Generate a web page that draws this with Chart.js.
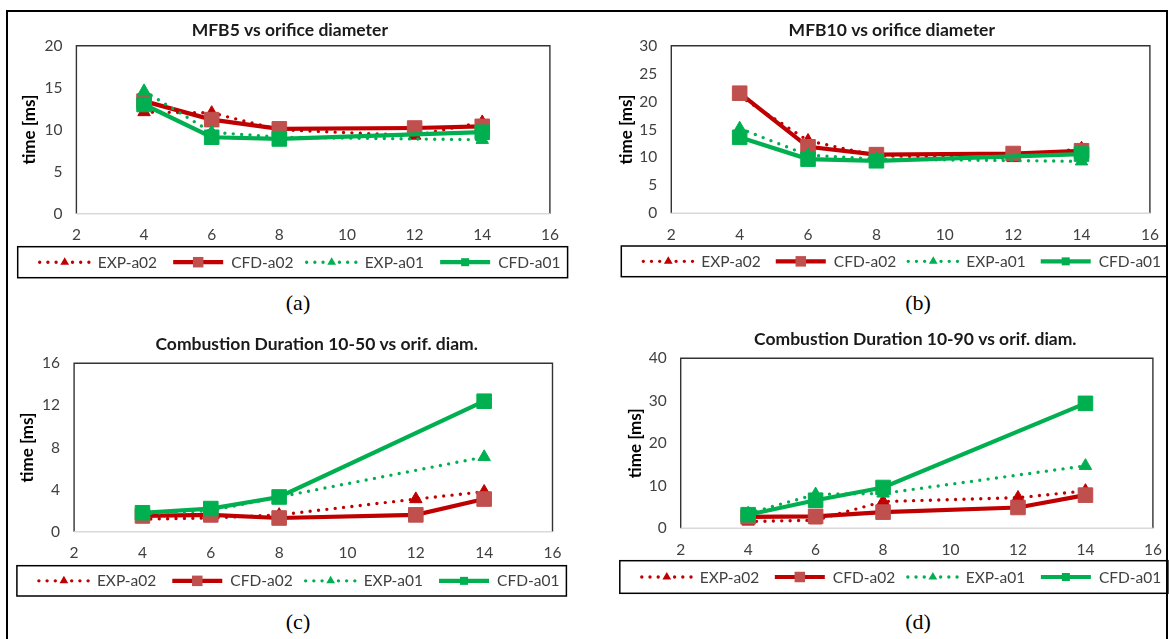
<!DOCTYPE html>
<html>
<head>
<meta charset="utf-8">
<script src="https://cdn.jsdelivr.net/npm/chart.js@4.4.1/dist/chart.umd.min.js"></script>
<style>
  html, body { margin: 0; padding: 0; background: #fff; overflow: hidden; }
  body { width: 1169px; height: 639px; position: relative; }
  .frame { position: absolute; left: 6px; top: 10px; width: 1162px; height: 700px;
           border: 2px solid #000; box-sizing: border-box; }
  .panel { position: absolute; }
  .cap { position: absolute; font-family: "Liberation Serif", "Times New Roman", serif;
         font-size: 22px; color: #000; transform: translate(-50%, -50%); white-space: nowrap; }
</style>
</head>
<body>
<div class="frame"></div>

<script>
// ---- data -------------------------------------------------------------
const seriesNames = ['EXP-a02', 'CFD-a02', 'EXP-a01', 'CFD-a01'];
const diamA02 = [4, 6, 8, 12, 14];      // orifice diameters, alpha 0.2 runs
const diamA01 = [4, 6, 8, 14];          // orifice diameters, alpha 0.1 runs
const xMin = 2, xMax = 16, xStep = 2;

// MFB5 vs orifice diameter [ms]
const mfb5Exp02 = [12.1, 12.0, 10.0, 9.3, 10.9];
const mfb5Cfd02 = [13.4, 11.2, 10.1, 10.2, 10.4];
const mfb5Exp01 = [14.6, 9.7, 9.1, 8.8];
const mfb5Cfd01 = [13.0, 9.1, 8.9, 9.7];

// MFB10 vs orifice diameter [ms]
const mfb10Exp02 = [21.0, 13.0, 10.3, 9.9, 11.6];
const mfb10Cfd02 = [21.5, 11.9, 10.5, 10.7, 11.2];
const mfb10Exp01 = [15.2, 10.4, 9.7, 9.3];
const mfb10Cfd01 = [13.6, 9.7, 9.4, 10.6];

// Combustion duration 10-50 [ms]
const cd1050Exp02 = [1.2, 1.3, 1.6, 3.1, 3.8];
const cd1050Cfd02 = [1.5, 1.6, 1.3, 1.6, 3.1];
const cd1050Exp01 = [1.7, 2.0, 3.3, 7.1];
const cd1050Cfd01 = [1.8, 2.2, 3.3, 12.4];

// Combustion duration 10-90 [ms]
const cd1090Exp02 = [1.6, 1.9, 6.3, 7.2, 8.8];
const cd1090Cfd02 = [2.7, 2.8, 3.8, 4.9, 7.8];
const cd1090Exp01 = [3.5, 8.0, 8.2, 14.7];
const cd1090Cfd01 = [3.2, 6.6, 9.6, 29.4];

const panelTitles = ['MFB5 vs orifice diameter', 'MFB10 vs orifice diameter',
  'Combustion Duration 10-50 vs orif. diam.', 'Combustion Duration 10-90 vs orif. diam.'];
const panelCaptions = ['(a)', '(b)', '(c)', '(d)'];
const yMaxes = [20, 30, 16, 40];
const ySteps = [5, 5, 4, 10];
const yAxisTitle = 'time [ms]';

// ---- styles -----------------------------------------------------------
const RED = '#C00000', RED_MARK = '#C0504D', GREEN = '#00B050';
const SANS = 'Lato, "Open Sans", sans-serif';

const seriesStyles = [
  { kind: 'dots', borderColor: RED, backgroundColor: RED, borderWidth: 3.4, borderDash: [0, 8.4],
    borderCapStyle: 'round', pointStyle: 'triangle', pointRadius: 7.2,
    pointBackgroundColor: RED, pointBorderColor: RED, pointBorderWidth: 1, order: 4 },
  { kind: 'solid', borderColor: RED, backgroundColor: RED_MARK, borderWidth: 4.2,
    pointStyle: 'rect', pointRadius: 10.3, pointBackgroundColor: RED_MARK,
    pointBorderColor: RED_MARK, pointBorderWidth: 1, order: 3 },
  { kind: 'dots', borderColor: GREEN, backgroundColor: GREEN, borderWidth: 3.4, borderDash: [0, 8.4],
    borderCapStyle: 'round', pointStyle: 'triangle', pointRadius: 7.2,
    pointBackgroundColor: GREEN, pointBorderColor: GREEN, pointBorderWidth: 1, order: 2 },
  { kind: 'solid', borderColor: GREEN, backgroundColor: GREEN, borderWidth: 4.2,
    pointStyle: 'rect', pointRadius: 10.3, pointBackgroundColor: GREEN,
    pointBorderColor: GREEN, pointBorderWidth: 1, order: 1 }
];

// ---- panel layout (page pixels) ----------------------------------------
const layouts = [
  { plot: { l: 76.4, r: 549.9, t: 45.7, b: 213.7 }, title: { x: 289.8, y: 30 }, yTitleX: 30,
    legend: { l: 17.7, r: 567.6, t: 246.7, b: 277.7 }, caption: { x: 298, y: 303 } },
  { plot: { l: 671.3, r: 1149.9, t: 45.7, b: 213.3 }, title: { x: 891.8, y: 30 }, yTitleX: 627,
    legend: { l: 621.3, r: 1167.2, t: 246, b: 276.7 }, caption: { x: 918, y: 303 } },
  { plot: { l: 74.1, r: 552.5, t: 363.3, b: 531.7 }, title: { x: 316.7, y: 344.3 }, yTitleX: 28,
    legend: { l: 16.9, r: 566.4, t: 565.7, b: 596 }, caption: { x: 298, y: 621.7 } },
  { plot: { l: 680.7, r: 1152.9, t: 358.3, b: 528.3 }, title: { x: 915.3, y: 339 }, yTitleX: 635.6,
    legend: { l: 619.8, r: 1167.9, t: 560.7, b: 593.3 }, caption: { x: 918, y: 621.7 } }
];

// ---- plugins ----------------------------------------------------------
const plotFrame = {
  id: 'plotFrame',
  beforeDatasetsDraw(chart) {
    const { ctx, chartArea: a } = chart;
    ctx.save();
    ctx.strokeStyle = '#333';
    ctx.lineWidth = 1.4;
    ctx.beginPath();
    ctx.moveTo(a.left, a.bottom);
    ctx.lineTo(a.left, a.top);
    ctx.lineTo(a.right, a.top);
    ctx.lineTo(a.right, a.bottom);
    ctx.stroke();
    ctx.strokeStyle = '#d9d9d9';
    ctx.lineWidth = 1.6;
    ctx.beginPath();
    ctx.moveTo(a.left, a.bottom);
    ctx.lineTo(a.right, a.bottom);
    ctx.stroke();
    ctx.restore();
  }
};

const panelTitle = {
  id: 'panelTitle',
  afterDraw(chart, args, opts) {
    const { ctx } = chart;
    ctx.save();
    ctx.font = 'bold 17.5px ' + SANS;
    ctx.fillStyle = '#1a1a1a';
    ctx.textAlign = 'center';
    ctx.textBaseline = 'middle';
    ctx.fillText(opts.text, opts.x, opts.y);
    ctx.restore();
  }
};

function drawMarker(ctx, style, x, y, scale) {
  ctx.save();
  ctx.fillStyle = style.pointBackgroundColor;
  ctx.setLineDash([]);
  if (style.pointStyle === 'triangle') {
    const r = style.pointRadius * scale;
    ctx.beginPath();
    ctx.moveTo(x, y - r);
    ctx.lineTo(x + r * 0.866, y + r * 0.5);
    ctx.lineTo(x - r * 0.866, y + r * 0.5);
    ctx.closePath();
    ctx.fill();
  } else {
    const s = style.pointRadius * Math.SQRT1_2 * scale;
    ctx.fillRect(x - s, y - s, 2 * s, 2 * s);
  }
  ctx.restore();
}

const boxLegend = {
  id: 'boxLegend',
  afterDraw(chart, args, opts) {
    const { ctx } = chart;
    const L = opts.box;
    ctx.save();
    ctx.strokeStyle = '#000';
    ctx.lineWidth = 1.5;
    ctx.strokeRect(L.l, L.t, L.r - L.l, L.b - L.t);
    const cy = (L.t + L.b) / 2;
    const pitch = (L.r - L.l - 16) / 4;
    chart.data.datasets.forEach((d, i) => {
      const st = seriesStyles[i];
      const sx = L.l + 22 + i * pitch;
      const len = 50;
      ctx.save();
      ctx.strokeStyle = st.borderColor;
      ctx.lineWidth = st.borderWidth;
      ctx.lineCap = st.kind === 'dots' ? 'round' : 'butt';
      ctx.setLineDash(st.kind === 'dots' ? [0, 8.2] : []);
      ctx.beginPath();
      ctx.moveTo(sx, cy);
      ctx.lineTo(sx + len, cy);
      ctx.stroke();
      ctx.restore();
      drawMarker(ctx, st, sx + len / 2, cy, st.kind === 'dots' ? 0.7 : (i === 1 ? 0.72 : 0.55));
      ctx.font = '15.5px ' + SANS;
      ctx.fillStyle = '#404040';
      ctx.textAlign = 'left';
      ctx.textBaseline = 'middle';
      ctx.fillText(d.label, sx + len + 8, cy + 0.5);
    });
    ctx.restore();
  }
};

// ---- build the four panels ---------------------------------------------
const panelData = [
  [mfb5Exp02, mfb5Cfd02, mfb5Exp01, mfb5Cfd01],
  [mfb10Exp02, mfb10Cfd02, mfb10Exp01, mfb10Cfd01],
  [cd1050Exp02, cd1050Cfd02, cd1050Exp01, cd1050Cfd01],
  [cd1090Exp02, cd1090Cfd02, cd1090Exp01, cd1090Cfd01]
];
const seriesX = [diamA02, diamA02, diamA01, diamA01];

layouts.forEach((g, p) => {
  const box = {
    l: Math.floor(Math.min(g.legend.l, g.yTitleX - 12)) - 3,
    r: Math.min(1169, Math.ceil(g.legend.r) + 2),
    t: Math.floor(g.title.y) - 20,
    b: Math.ceil(g.legend.b) + 3
  };
  const W = box.r - box.l, H = box.b - box.t;
  const wrap = document.createElement('div');
  wrap.className = 'panel';
  wrap.style.left = box.l + 'px';
  wrap.style.top = box.t + 'px';
  wrap.style.width = W + 'px';
  wrap.style.height = H + 'px';
  const canvas = document.createElement('canvas');
  canvas.width = W; canvas.height = H;
  canvas.style.width = W + 'px'; canvas.style.height = H + 'px';
  wrap.appendChild(canvas);
  document.body.appendChild(wrap);

  const cap = document.createElement('div');
  cap.className = 'cap';
  cap.style.left = g.caption.x + 'px';
  cap.style.top = g.caption.y + 'px';
  cap.textContent = panelCaptions[p];
  document.body.appendChild(cap);

  const xAxisH = 30;
  const yAxisW = g.plot.l - box.l;
  const yTitleFont = 17;
  const datasets = seriesNames.map((name, i) => {
    const st = Object.assign({}, seriesStyles[i]);
    delete st.kind;
    return Object.assign({
      label: name,
      data: seriesX[i].map((x, k) => ({ x: x, y: panelData[p][i][k] })),
      tension: 0, fill: false
    }, st);
  });

  new Chart(canvas, {
    type: 'line',
    data: { datasets },
    options: {
      responsive: false,
      animation: false,
      events: [],
      layout: {
        padding: {
          left: 0,
          right: box.r - g.plot.r,
          top: g.plot.t - box.t,
          bottom: box.b - g.plot.b - xAxisH
        }
      },
      scales: {
        x: {
          type: 'linear', min: xMin, max: xMax,
          ticks: { stepSize: xStep, padding: 12, color: '#404040', font: { family: SANS, size: 15.5 } },
          grid: { display: false, drawTicks: false },
          border: { display: false },
          afterFit(s) { s.height = xAxisH; s.paddingLeft = 0; s.paddingRight = 0; }
        },
        y: {
          min: 0, max: yMaxes[p],
          ticks: { stepSize: ySteps[p], padding: 14, color: '#404040', font: { family: SANS, size: 15.5 } },
          grid: { display: false, drawTicks: false },
          border: { display: false },
          title: {
            display: true, text: yAxisTitle, color: '#000',
            font: { family: SANS, size: yTitleFont, weight: 'bold' },
            padding: { top: g.yTitleX - box.l - yTitleFont * 0.6, bottom: 0 }
          },
          afterFit(s) { s.width = yAxisW; s.paddingTop = 0; s.paddingBottom = 0; }
        }
      },
      plugins: {
        legend: { display: false },
        title: { display: false },
        tooltip: { enabled: false },
        panelTitle: { text: panelTitles[p], x: g.title.x - box.l, y: g.title.y - box.t },
        boxLegend: { box: { l: g.legend.l - box.l, r: g.legend.r - box.l, t: g.legend.t - box.t, b: g.legend.b - box.t } }
      }
    },
    plugins: [plotFrame, panelTitle, boxLegend]
  });
});
</script>
</body>
</html>
